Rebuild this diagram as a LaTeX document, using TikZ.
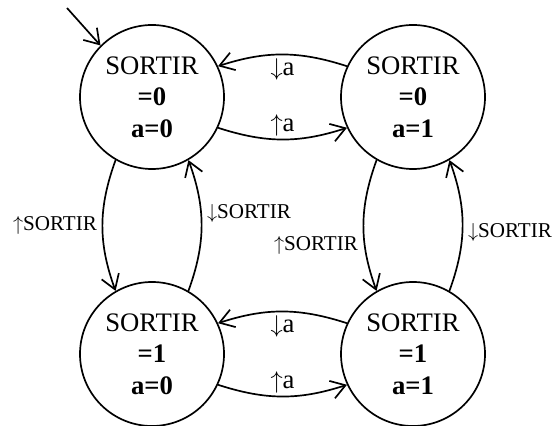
\documentclass[tikz,border=0pt]{standalone}
\usepackage{fontspec}
\setmainfont{Liberation Serif}
\usepackage{tikz}
\usetikzlibrary{arrows.meta}

\begin{document}
\begin{tikzpicture}[
    >={Straight Barb[length=10pt, width=13pt]},
    line width=1.2pt,
    state/.style={draw, circle, minimum size=3.6cm, inner sep=0pt, align=center, font=\fontsize{19}{22.4}\selectfont},
    lbl/.style={font=\fontsize{#1}{#1}\selectfont},
    lbl/.default=15,
]
\useasboundingbox (0,0) rectangle (13.925,10.625);

% States
\node[state] (s00) at (3.8, 8.2) {SORTIR\\\textbf{=0}\\\textbf{a=0}};
\node[state] (s01) at (10.325, 8.2) {SORTIR\\\textbf{=0}\\\textbf{a=1}};
\node[state] (s10) at (3.8, 1.775) {SORTIR\\\textbf{=1}\\\textbf{a=0}};
\node[state] (s11) at (10.325, 1.775) {SORTIR\\\textbf{=1}\\\textbf{a=1}};

% Initial state
\coordinate (init) at (1.675, 10.425);
\draw[->] (init) -- (s00.135);

% Transitions on a
\draw[->] (s01.155) to[bend right=18] node[below, lbl=19, inner sep=2pt] {$\downarrow$a} (s00.25);
\draw[->] (s00.-25) to[bend right=18] node[above, lbl=19, inner sep=2pt] {$\uparrow$a} (s01.205);
\draw[->] (s11.155) to[bend right=18] node[below, lbl=19, inner sep=2pt] {$\downarrow$a} (s10.25);
\draw[->] (s10.-25) to[bend right=18] node[above, lbl=19, inner sep=2pt] {$\uparrow$a} (s11.205);

% Transitions on SORTIR
\draw[->] (s00.240) to[bend right=20] node[left, lbl] {$\uparrow$SORTIR} (s10.120);
\draw[->] (s10.60) to[bend right=20] node[right, lbl, yshift=0.3cm] {$\downarrow$SORTIR} (s00.300);
\draw[->] (s01.240) to[bend right=20] node[left, lbl, yshift=-0.5cm] {$\uparrow$SORTIR} (s11.120);
\draw[->] (s11.60) to[bend right=20] node[right, lbl, yshift=-0.18cm] {$\downarrow$SORTIR} (s01.300);

\end{tikzpicture}
\end{document}
